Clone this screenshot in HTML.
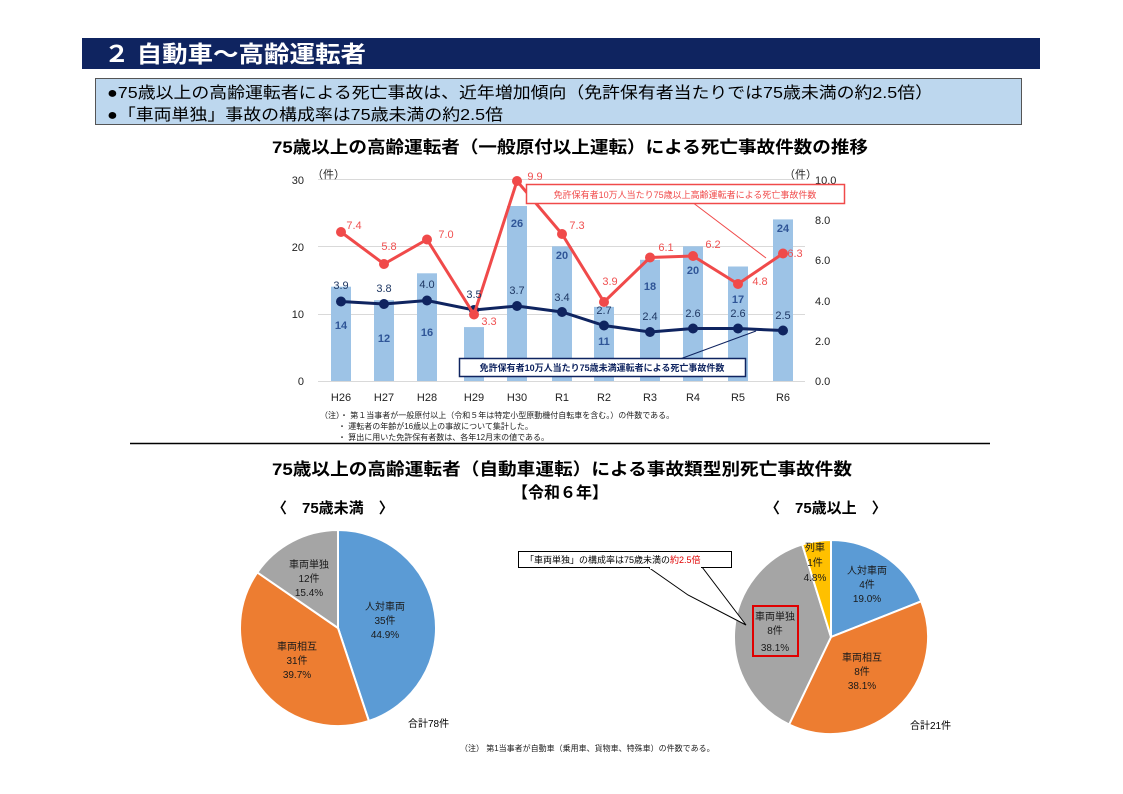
<!DOCTYPE html>
<html><head><meta charset="utf-8"><style>
html,body{margin:0;padding:0;background:#fff;}
svg{display:block;font-family:"Liberation Sans","Noto Sans CJK JP",sans-serif;}
</style></head><body>
<svg width="1123" height="794" viewBox="0 0 1123 794" xmlns="http://www.w3.org/2000/svg">
<rect x="82" y="38" width="958" height="31" fill="#0f2460"/>
<text x="104" y="62" font-size="23" font-weight="bold" fill="#fff" textLength="262" lengthAdjust="spacingAndGlyphs">２ 自動車～高齢運転者</text>
<rect x="95.5" y="78.5" width="926" height="46" fill="#bdd7ee" stroke="#555" stroke-width="1"/>
<text x="107" y="98" font-size="16" fill="#000" textLength="826" lengthAdjust="spacingAndGlyphs">●75歳以上の高齢運転者による死亡事故は、近年増加傾向（免許保有者当たりでは75歳未満の約2.5倍）</text>
<text x="107" y="120" font-size="16" fill="#000" textLength="396" lengthAdjust="spacingAndGlyphs">●「車両単独」事故の構成率は75歳未満の約2.5倍</text>
<text x="272" y="153" font-size="17" font-weight="bold" textLength="596" lengthAdjust="spacingAndGlyphs">75歳以上の高齢運転者（一般原付以上運転）による死亡事故件数の推移</text>

<g stroke="#d9d9d9" stroke-width="1">
<line x1="318" y1="179.5" x2="805" y2="179.5"/>
<line x1="318" y1="246.5" x2="805" y2="246.5"/>
<line x1="318" y1="314.5" x2="805" y2="314.5"/>
<line x1="318" y1="381.5" x2="805" y2="381.5"/>
</g>
<g font-size="11" fill="#222">
<text x="304" y="184" text-anchor="end">30</text>
<text x="304" y="251" text-anchor="end">20</text>
<text x="304" y="318" text-anchor="end">10</text>
<text x="304" y="385" text-anchor="end">0</text>
<text x="312" y="178">（件）</text>
<text x="784" y="178">（件）</text>
<text x="815" y="184">10.0</text>
<text x="815" y="224">8.0</text>
<text x="815" y="264">6.0</text>
<text x="815" y="305">4.0</text>
<text x="815" y="345">2.0</text>
<text x="815" y="385">0.0</text>
</g>
<g fill="#9dc3e6">
<rect x="331" y="286.7" width="20" height="94.3"/>
<rect x="374" y="300.2" width="20" height="80.8"/>
<rect x="417" y="273.3" width="20" height="107.7"/>
<rect x="464" y="327.1" width="20" height="53.9"/>
<rect x="507" y="206" width="20" height="175"/>
<rect x="552" y="246.3" width="20" height="134.7"/>
<rect x="594" y="306.9" width="20" height="74.1"/>
<rect x="640" y="259.8" width="20" height="121.2"/>
<rect x="683" y="246.3" width="20" height="134.7"/>
<rect x="728" y="266.5" width="20" height="114.5"/>
<rect x="773" y="219.4" width="20" height="161.6"/>
</g>
<g font-size="11" font-weight="bold" fill="#2f5597" text-anchor="middle">
<text x="341" y="329">14</text><text x="384" y="342">12</text><text x="427" y="336">16</text>
<text x="474" y="376">8</text><text x="517" y="227">26</text><text x="562" y="259">20</text>
<text x="604" y="345">11</text><text x="650" y="290">18</text><text x="693" y="274">20</text>
<text x="738" y="303">17</text><text x="783" y="232">24</text>
</g>
<g font-size="11" fill="#222" text-anchor="middle">
<text x="341" y="401">H26</text><text x="384" y="401">H27</text><text x="427" y="401">H28</text>
<text x="474" y="401">H29</text><text x="517" y="401">H30</text><text x="562" y="401">R1</text>
<text x="604" y="401">R2</text><text x="650" y="401">R3</text><text x="693" y="401">R4</text>
<text x="738" y="401">R5</text><text x="783" y="401">R6</text>
</g>
<polyline fill="none" stroke="#0f2460" stroke-width="3" points="341,301.5 384,304 427,300.5 474,310 517,306 562,312 604,325.5 650,332 693,328.5 738,328.5 783,330.5"/>
<g fill="#0f2460">
<circle cx="341" cy="301.5" r="5"/><circle cx="384" cy="304" r="5"/><circle cx="427" cy="300.5" r="5"/>
<circle cx="474" cy="310" r="5"/><circle cx="517" cy="306" r="5"/><circle cx="562" cy="312" r="5"/>
<circle cx="604" cy="325.5" r="5"/><circle cx="650" cy="332" r="5"/><circle cx="693" cy="328.5" r="5"/>
<circle cx="738" cy="328.5" r="5"/><circle cx="783" cy="330.5" r="5"/>
</g>
<polyline fill="none" stroke="#f04a4a" stroke-width="3" points="341,232 384,264 427,239.5 474,314.5 517,181 562,234 604,302 650,257.5 693,256 738,284 783,253.5"/>
<g fill="#f04a4a">
<circle cx="341" cy="232" r="5"/><circle cx="384" cy="264" r="5"/><circle cx="427" cy="239.5" r="5"/>
<circle cx="474" cy="314.5" r="5"/><circle cx="517" cy="181" r="5"/><circle cx="562" cy="234" r="5"/>
<circle cx="604" cy="302" r="5"/><circle cx="650" cy="257.5" r="5"/><circle cx="693" cy="256" r="5"/>
<circle cx="738" cy="284" r="5"/><circle cx="783" cy="253.5" r="5"/>
</g>
<g font-size="11" fill="#1f3864" text-anchor="middle">
<text x="341" y="289">3.9</text><text x="384" y="292">3.8</text><text x="427" y="288">4.0</text>
<text x="474" y="298">3.5</text><text x="517" y="294">3.7</text><text x="562" y="301">3.4</text>
<text x="604" y="314">2.7</text><text x="650" y="320">2.4</text><text x="693" y="317">2.6</text>
<text x="738" y="317">2.6</text><text x="783" y="319">2.5</text>
</g>
<g font-size="11" fill="#f05050" text-anchor="middle">
<text x="354" y="229">7.4</text><text x="389" y="250">5.8</text><text x="446" y="238">7.0</text>
<text x="489" y="325">3.3</text><text x="535" y="180">9.9</text><text x="577" y="229">7.3</text>
<text x="610" y="285">3.9</text><text x="666" y="251">6.1</text><text x="713" y="248">6.2</text>
<text x="760" y="285">4.8</text><text x="795" y="257">6.3</text>
</g>
<line x1="688" y1="199" x2="766" y2="258" stroke="#f04a4a" stroke-width="1"/>
<rect x="526.5" y="184.5" width="318" height="19" fill="#fff" stroke="#f04a4a" stroke-width="1.5"/>
<text x="685" y="198" font-size="9" fill="#f04a4a" text-anchor="middle">免許保有者10万人当たり75歳以上高齢運転者による死亡事故件数</text>
<line x1="680" y1="359" x2="756" y2="331" stroke="#0f2460" stroke-width="1"/>
<rect x="459.5" y="358.5" width="286" height="18" fill="#fff" stroke="#0f2460" stroke-width="1.5"/>
<text x="602" y="371" font-size="9" font-weight="bold" fill="#0f2460" text-anchor="middle">免許保有者10万人当たり75歳未満運転者による死亡事故件数</text>
<g font-size="8" fill="#222">
<text x="320" y="418">（注）・ 第１当事者が一般原付以上（令和５年は特定小型原動機付自転車を含む。）の件数である。</text>
<text x="338" y="429">・ 運転者の年齢が16歳以上の事故について集計した。</text>
<text x="338" y="440">・ 算出に用いた免許保有者数は、各年12月末の値である。</text>
</g>
<line x1="130" y1="443.5" x2="990" y2="443.5" stroke="#000" stroke-width="1.5"/>
<text x="272" y="475" font-size="17" font-weight="bold" textLength="580" lengthAdjust="spacingAndGlyphs">75歳以上の高齢運転者（自動車運転）による事故類型別死亡事故件数</text>
<text x="560" y="498" font-size="16" font-weight="bold" text-anchor="middle">【令和６年】</text>
<text x="272" y="513" font-size="15" font-weight="bold">〈　75歳未満　〉</text>
<text x="765" y="513" font-size="15" font-weight="bold">〈　75歳以上　〉</text>

<g stroke="#fff" stroke-width="2">
<path d="M338,628 L338,530 A98,98 0 0 1 368.9,721 Z" fill="#5b9bd5"/>
<path d="M338,628 L368.9,721 A98,98 0 0 1 257.3,572.4 Z" fill="#ed7d31"/>
<path d="M338,628 L257.3,572.4 A98,98 0 0 1 338,530 Z" fill="#a5a5a5"/>
</g>
<g font-size="10" fill="#1a1a1a" text-anchor="middle">
<text x="385" y="610">人対車両</text><text x="385" y="624">35件</text><text x="385" y="638">44.9%</text>
<text x="297" y="650">車両相互</text><text x="297" y="664">31件</text><text x="297" y="678">39.7%</text>
<text x="309" y="568">車両単独</text><text x="309" y="582">12件</text><text x="309" y="596">15.4%</text>
</g>
<text x="408" y="727" font-size="10">合計78件</text>

<g stroke="#fff" stroke-width="2">
<path d="M831,637 L831,540 A97,97 0 0 1 921.2,601.3 Z" fill="#5b9bd5"/>
<path d="M831,637 L921.2,601.3 A97,97 0 0 1 789.1,724.5 Z" fill="#ed7d31"/>
<path d="M831,637 L789.1,724.5 A97,97 0 0 1 802.2,544.4 Z" fill="#a5a5a5"/>
<path d="M831,637 L802.2,544.4 A97,97 0 0 1 831,540 Z" fill="#ffc000"/>
</g>
<g font-size="10" fill="#1a1a1a" text-anchor="middle">
<text x="867" y="574">人対車両</text><text x="867" y="588">4件</text><text x="867" y="602">19.0%</text>
<text x="862" y="661">車両相互</text><text x="862" y="675">8件</text><text x="862" y="689">38.1%</text>
<text x="815" y="551">列車</text><text x="815" y="566">1件</text><text x="815" y="581">4.8%</text>
<text x="775" y="620">車両単独</text><text x="775" y="634">8件</text><text x="775" y="651">38.1%</text>
</g>
<rect x="753" y="606" width="45" height="50" fill="none" stroke="#e00000" stroke-width="2"/>
<text x="910" y="729" font-size="10">合計21件</text>
<path d="M648,567 L688,595 L746,625 L702,567 Z" fill="#fff" stroke="#000" stroke-width="1"/>
<rect x="518.5" y="551.5" width="213" height="16" fill="#fff" stroke="#000" stroke-width="1"/>
<rect x="650" y="566" width="51" height="3" fill="#fff"/>
<text x="525" y="563" font-size="9">「車両単独」の構成率は75歳未満の<tspan fill="#e00000">約2.5倍</tspan></text>
<text x="460" y="751" font-size="8" fill="#222">（注） 第1当事者が自動車（乗用車、貨物車、特殊車）の件数である。</text>
</svg>
</body></html>
